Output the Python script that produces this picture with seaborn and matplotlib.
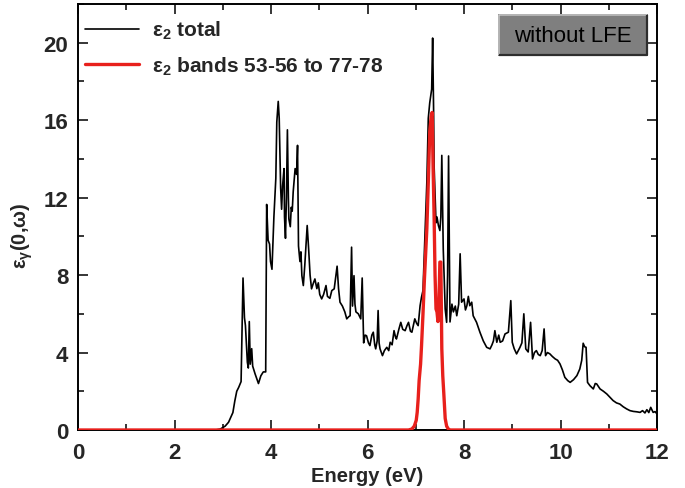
import matplotlib
matplotlib.use("Agg")
import matplotlib.pyplot as plt
from matplotlib.patches import Rectangle
from matplotlib.lines import Line2D
from matplotlib.ticker import MultipleLocator
import seaborn as sns
import pandas as pd

# Total imaginary dielectric function epsilon_2 (without local field effects)
energy_total = [0.0, 2.85, 2.95, 3.05, 3.12, 3.21, 3.25, 3.29, 3.33, 3.38, 3.42, 3.45, 3.47, 3.51, 3.53,
                3.55, 3.57, 3.60, 3.62, 3.67, 3.74, 3.79, 3.84, 3.89, 3.91, 3.94, 3.97, 3.99, 4.02, 4.06,
                4.10, 4.12, 4.15, 4.17, 4.20, 4.22, 4.24, 4.27, 4.28, 4.30, 4.32, 4.34, 4.36, 4.37, 4.40,
                4.42, 4.44, 4.46, 4.50, 4.53, 4.55, 4.57, 4.60, 4.62, 4.64, 4.67, 4.70, 4.75, 4.78, 4.81,
                4.84, 4.88, 4.91, 4.95, 4.98, 5.01, 5.05, 5.09, 5.14, 5.17, 5.22, 5.26, 5.31, 5.37, 5.40,
                5.43, 5.48, 5.53, 5.57, 5.61, 5.64, 5.67, 5.69, 5.72, 5.74, 5.76, 5.81, 5.86, 5.89, 5.92,
                5.95, 5.98, 6.02, 6.05, 6.09, 6.12, 6.15, 6.17, 6.20, 6.22, 6.24, 6.26, 6.31, 6.35, 6.40,
                6.44, 6.47, 6.51, 6.55, 6.58, 6.60, 6.65, 6.69, 6.73, 6.78, 6.82, 6.85, 6.89, 6.92, 6.95,
                6.98, 7.02, 7.05, 7.09, 7.12, 7.15, 7.18, 7.23, 7.26, 7.29, 7.33, 7.35, 7.37, 7.38, 7.42,
                7.44, 7.47, 7.50, 7.52, 7.54, 7.57, 7.61, 7.64, 7.66, 7.68, 7.71, 7.75, 7.78, 7.82, 7.85,
                7.89, 7.92, 7.95, 8.00, 8.03, 8.06, 8.09, 8.12, 8.16, 8.19, 8.26, 8.33, 8.40, 8.47, 8.54,
                8.58, 8.61, 8.64, 8.68, 8.72, 8.75, 8.80, 8.85, 8.92, 8.97, 9.00, 9.04, 9.09, 9.16, 9.20,
                9.24, 9.28, 9.33, 9.38, 9.42, 9.46, 9.50, 9.54, 9.58, 9.62, 9.66, 9.69, 9.73, 9.78, 9.83,
                9.89, 9.94, 9.99, 10.04, 10.09, 10.15, 10.20, 10.27, 10.34, 10.40, 10.44, 10.47, 10.50,
                10.53, 10.56, 10.61, 10.68, 10.72, 10.75, 10.82, 10.89, 10.96, 11.02, 11.09, 11.16, 11.23,
                11.30, 11.37, 11.44, 11.51, 11.58, 11.65, 11.70, 11.75, 11.79, 11.83, 11.87, 11.92, 11.96,
                12.00]
eps_total = [0.0, 0.0, 0.05, 0.2, 0.4, 0.9, 1.5, 2.0, 2.2, 2.5, 7.85, 5.8, 5.4, 3.5, 3.2,
             5.6, 3.4, 4.2, 3.3, 2.9, 2.4, 2.8, 3.0, 3.0, 11.65, 9.8, 9.6, 8.7, 8.3, 11.0,
             13.0, 15.9, 16.97, 16.1, 12.5, 11.4, 12.6, 13.5, 11.0, 9.9, 12.0, 15.5, 12.0, 10.9, 10.5,
             11.5, 11.3, 12.3, 13.5, 13.2, 14.7, 9.5, 8.7, 9.2, 7.97, 7.46, 8.5, 10.56, 9.35, 8.0,
             7.29, 7.6, 7.8, 7.3, 7.6, 7.0, 6.77, 7.0, 7.46, 6.9, 6.8, 7.2, 7.29, 8.46, 7.3,
             6.6, 6.4, 6.1, 5.74, 5.85, 5.9, 9.44, 6.4, 7.97, 6.5, 6.1, 6.0, 5.74, 7.85, 4.5,
             4.9, 4.87, 4.5, 4.36, 4.9, 5.05, 4.4, 4.19, 4.6, 6.17, 4.5, 4.19, 3.84, 4.1, 4.27,
             4.1, 4.53, 4.4, 5.13, 4.8, 4.7, 5.2, 5.56, 5.2, 5.13, 5.4, 5.56, 5.1, 5.05, 5.4,
             5.74, 5.5, 5.39, 6.42, 6.87, 7.2, 9.35, 12.8, 16.1, 16.9, 17.6, 20.24, 16.5, 13.66, 10.7,
             11.0, 10.56, 10.3, 11.0, 14.18, 9.35, 6.25, 5.56, 8.0, 14.15, 5.58, 6.5, 6.1, 6.4, 5.9,
             6.5, 9.1, 6.6, 6.77, 6.2, 6.42, 6.9, 6.42, 6.6, 5.9, 5.56, 5.05, 4.6, 4.27, 4.19,
             4.4, 4.6, 5.13, 4.53, 4.9, 4.53, 4.6, 4.96, 5.05, 6.68, 4.53, 4.2, 3.93, 4.27, 4.5,
             6.0, 4.19, 4.03, 5.56, 3.67, 4.0, 4.1, 3.9, 3.84, 4.1, 5.22, 3.84, 4.0, 3.93, 3.8,
             3.67, 3.6, 3.41, 3.1, 2.72, 2.55, 2.46, 2.6, 2.81, 3.15, 3.6, 4.48, 4.3,
             4.27, 2.46, 2.29, 2.12, 2.4, 2.38, 2.12, 2.0, 1.86, 1.7, 1.52, 1.4, 1.34,
             1.2, 1.09, 1.0, 0.96, 0.94, 0.91, 1.0, 0.88, 1.05, 0.9, 1.17, 0.91, 0.95,
             0.83]

# Contribution of transitions from bands 53-56 to bands 77-78
energy_band = [0.0, 6.85, 6.92, 6.97, 7.01, 7.03, 7.05, 7.07, 7.10, 7.12, 7.15, 7.18, 7.23, 7.26,
               7.29, 7.32, 7.34, 7.36, 7.38, 7.40, 7.42, 7.44, 7.46, 7.48, 7.50, 7.52, 7.54, 7.56,
               7.58, 7.61, 7.64, 7.68, 7.72, 12.0]
eps_band = [0.0, 0.0, 0.05, 0.2, 0.5, 0.91, 1.6, 2.55, 3.4, 4.36, 6.0, 7.8, 10.4, 12.8,
            15.4, 16.2, 16.4, 13.5, 11.1, 8.0, 6.25, 6.1, 5.6, 6.5, 8.67, 8.67, 4.2, 2.8,
            1.95, 0.6, 0.2, 0.03, 0.0, 0.0]

x_ticks = [0, 2, 4, 6, 8, 10, 12]
y_ticks = [0, 4, 8, 12, 16, 20]

label_total = r"$\mathrm{ε}_\mathbf{2}$ total"
label_band = r"$\mathrm{ε}_\mathbf{2}$ bands 53-56 to 77-78"

sns.set_style("ticks")
plt.rcParams["font.family"] = ["Liberation Sans", "DejaVu Sans"]
plt.rcParams["font.weight"] = "bold"
plt.rcParams["mathtext.fontset"] = "custom"
plt.rcParams["mathtext.rm"] = "Liberation Sans"
plt.rcParams["mathtext.it"] = "Liberation Sans:italic"
plt.rcParams["mathtext.bf"] = "Liberation Sans:bold"

df_total = pd.DataFrame({"E": energy_total, "eps": eps_total})
df_band = pd.DataFrame({"E": energy_band, "eps": eps_band})

fig = plt.figure(figsize=(6.85, 4.89), dpi=100)
ax = fig.add_axes([78 / 685, 1 - 431 / 489, 579 / 685, 426 / 489])

sns.lineplot(data=df_total, x="E", y="eps", ax=ax, color="black", lw=1.2,
             estimator=None, sort=False, zorder=2)
sns.lineplot(data=df_band, x="E", y="eps", ax=ax, color="#e8201c", lw=2.4,
             estimator=None, sort=False, zorder=3)

ax.set_xlim(0, 12)
ax.set_ylim(0, 22)
ax.set_xticks(x_ticks)
ax.set_yticks(y_ticks)
ax.xaxis.set_minor_locator(MultipleLocator(1))
ax.yaxis.set_minor_locator(MultipleLocator(2))
ax.tick_params(which="both", direction="in", top=True, right=True, width=1.3)
ax.tick_params(which="major", length=7, labelsize=16)
ax.tick_params(axis="x", which="major", pad=9)
ax.tick_params(axis="y", which="major", pad=7)
ax.tick_params(which="minor", length=4)
for lab in ax.get_xticklabels() + ax.get_yticklabels():
    lab.set_fontweight("bold")
for sp in ax.spines.values():
    sp.set_linewidth(1.4)
    sp.set_color("black")

ax.set_xlabel("Energy (eV)", fontsize=14.5, fontweight="bold", labelpad=2)
ax.set_ylabel(r"$\mathrm{ε}_\mathrm{γ}$(0,$\mathrm{ω}$)", fontsize=14.5,
              fontweight="bold")
ax.yaxis.set_label_coords(-0.075, 0.458)

handles = [Line2D([], [], color="black", lw=1.2),
           Line2D([], [], color="#e8201c", lw=2.4)]
leg = ax.legend(handles, [label_total, label_band], loc="upper left",
                bbox_to_anchor=(0.012, 0.965), frameon=False, fontsize=15,
                handlelength=2.6, handletextpad=0.6, labelspacing=0.65,
                borderaxespad=0, borderpad=0)
for t in leg.get_texts():
    t.set_fontweight("bold")

# Framed annotation box with a bevelled edge
x0, x1 = (499 - 78) / 579, (647 - 78) / 579
y0, y1 = (431 - 56) / 426, (431 - 16) / 426
ax.add_patch(Rectangle((x0, y0), x1 - x0, y1 - y0, transform=ax.transAxes,
                       facecolor="#7f7f7f", edgecolor="#3a3a3a", lw=1.2, zorder=5))
ax.plot([x0, x0, x1], [y0, y1, y1], transform=ax.transAxes, color="#c8c8c8",
        lw=1.2, zorder=6, solid_capstyle="butt")
ax.plot([x0, x1, x1], [y0, y0, y1], transform=ax.transAxes, color="#2e2e2e",
        lw=1.6, zorder=6, solid_capstyle="butt")
ax.text((x0 + x1) / 2, (y0 + y1) / 2, "without LFE", transform=ax.transAxes,
        ha="center", va="center", fontsize=16, fontweight="normal",
        color="black", zorder=7)

fig.savefig("out.png", dpi=100)
